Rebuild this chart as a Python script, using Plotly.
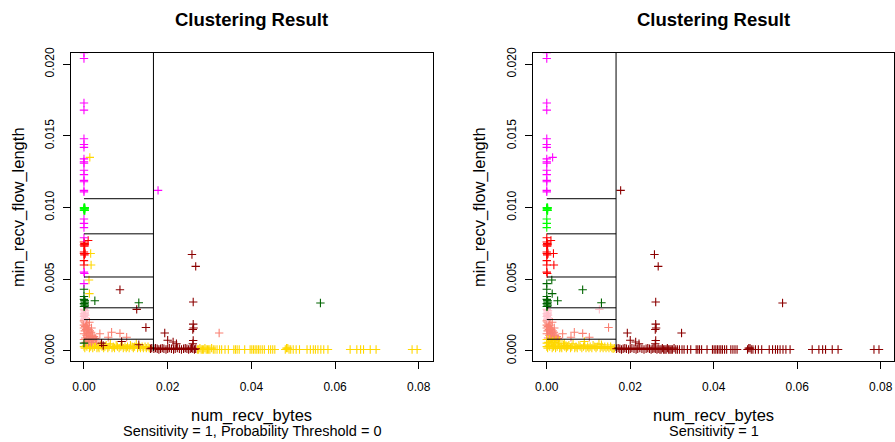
import plotly.graph_objects as go

# ---- cluster members (left panel: sensitivity = 1, probability threshold = 0) ----
magenta_x = [0, 0, 0, 0, 0, 0, 0, 0, 0, 0, 0, 0, 0, 0, 0, 0, 0.0177, 0, 0, 0, 0, 0, 0.0001, 0]
magenta_y = [0.0208, 0.0204, 0.0173, 0.0168, 0.0148, 0.0144, 0.0142, 0.0134, 0.0132, 0.0131,
             0.0126, 0.0123, 0.0119, 0.0118, 0.0112, 0.0111, 0.0112, 0.0092, 0.0089, 0.0086,
             0.0079, 0.0055, 0.0054, 0.0047]

green_x = [0, 0.0001, 0.0002, 0, 0.0001, 0.0002, 0, 0.0001, 0.0002, 0.0001]
green_y = [0.0098, 0.0098, 0.0098, 0.0099, 0.0099, 0.0099, 0.0100, 0.0100, 0.0100, 0.00995]

red_x = [0, 0.0001, 0, 0.0002, 0.0001, 0.0010, 0, 0, 0.0003, 0.0001, 0, 0]
red_y = [0.0076, 0.0075, 0.0074, 0.0074, 0.0073, 0.0077, 0.0069, 0.0068, 0.0068, 0.0067, 0.0063, 0.0060]

darkgreen_x = [0, 0, 0, 0.0001, 0.0002, 0, 0.0001, 0.0002, 0, 0.0001, 0.0002, 0.0026, 0.0131, 0.0565, 0]
darkgreen_y = [0.0043, 0.0038, 0.0036, 0.0035, 0.0034, 0.0033, 0.0033, 0.0032, 0.0031, 0.0031,
               0.0035, 0.0035, 0.00336, 0.00335, 0.00055]

pink_x = [0, 0.0001, 0.0002, 0.0003, 0, 0.0001, 0.0003, 0.0002, 0, 0.0002, 0.0003, 0.0001]
pink_y = [0.0029, 0.0028, 0.0027, 0.0028, 0.0026, 0.0025, 0.0025, 0.0026, 0.0024, 0.0023, 0.0023, 0.0022]

salmon_x = [0, 0.0002, 0.0004, 0, 0.0006, 0.0003, 0.0008, 0, 0.0011, 0.0005, 0.0014, 0.0002,
            0.0009, 0.0017, 0, 0.0012, 0.0020, 0.0006, 0.0015, 0.0024, 0.0003, 0.0010, 0.0019,
            0.0027, 0, 0.0007, 0.0014, 0.0022, 0.0030, 0.0004, 0.0011, 0.0018,
            0.0013, 0.0018, 0.0038, 0.0058, 0.0066, 0.0086, 0.0102, 0.0323]
salmon_y = [0.0021, 0.0020, 0.0019, 0.0018, 0.0018, 0.0017, 0.0016, 0.0016, 0.0015, 0.0015,
            0.0014, 0.0014, 0.0013, 0.0013, 0.0012, 0.0012, 0.0011, 0.0011, 0.0010, 0.0010,
            0.0009, 0.0009, 0.0009, 0.00088, 0.0008, 0.0008, 0.0007, 0.00075, 0.0007, 0.0006,
            0.0006, 0.0006,
            0.0020, 0.0016, 0.0012, 0.00096, 0.0013, 0.00123, 0.00096, 0.00125]

gold_x = [0.0014, 0.0016, 0.0017, 0.0012, 0.0013,
          0, 0.0002, 0.0005, 0.0007, 0.0010, 0.0013, 0.0016, 0.0019, 0.0021, 0.0025, 0.0028,
          0.0031, 0.0034, 0.0036, 0.0040, 0.0043, 0.0047, 0.0050, 0.0053, 0.0057, 0.0060,
          0.0063, 0.0067, 0.0070, 0.0073, 0.0077, 0.0080, 0.0084, 0.0088, 0.0091, 0.0094,
          0.0098, 0.0101, 0.0104, 0.0108, 0.0111, 0.0115, 0.0118, 0.0121, 0.0125, 0.0128,
          0.0132, 0.0135, 0.0139, 0.0142, 0.0146, 0.0149, 0.0153, 0.0156,
          0.0271, 0.0274, 0.0277, 0.0280, 0.0283, 0.0286, 0.0289, 0.0292, 0.0295, 0.0298,
          0.0301, 0.0305, 0.0309, 0.0313, 0.0318, 0.0324, 0.0329, 0.0337, 0.0345, 0.0358,
          0.0362, 0.0366, 0.0371, 0.0384, 0.0397, 0.0401, 0.0405, 0.0409, 0.0413, 0.0417,
          0.0421, 0.0426, 0.0431, 0.0441, 0.0446, 0.0451, 0.0456, 0.0481, 0.0484, 0.0487,
          0.0490, 0.0494, 0.0500, 0.0507, 0.0515, 0.0533, 0.0541, 0.0548, 0.0553, 0.0559,
          0.0566, 0.0573, 0.0583, 0.0636, 0.0652, 0.0661, 0.0668, 0.0684, 0.0698, 0.0784,
          0.0796]
gold_y = [0.0135, 0.0068, 0.0060, 0.00495, 0.0040,
          0.0003, 0.0002, 0.0004, 0.0003, 0.0006, 0.0002, 0.0003, 0.0004, 0.0002, 0.0003, 0.0005,
          0.0002, 0.0003, 0.0002, 0.0004, 0.0003, 0.0002, 0.0003, 0.0004, 0.0002, 0.0003,
          0.0005, 0.0002, 0.0003, 0.0002, 0.0004, 0.0003, 0.0002, 0.0003, 0.0004, 0.0002,
          0.0003, 0.0002, 0.0003, 0.0002, 0.0004, 0.0003, 0.0002, 0.0003, 0.0005, 0.0002,
          0.0003, 0.0002, 0.0003, 0.0002, 0.0003, 0.0002, 0.0003, 0.0002,
          0.0001, 0.0001, 0.0002, 0.0001, 0.0001, 0.0001, 0.0002, 0.0001, 0.0001, 0.0001,
          0.0001, 0.0002, 0.0001, 0.0001, 0.0001, 0.0001, 0.0001, 0.0001, 0.0001, 0.0001,
          0.0001, 0.0001, 0.0001, 0.0001, 0.0001, 0.0001, 0.0001, 0.0001, 0.0001, 0.0001,
          0.0001, 0.0001, 0.0001, 0.0001, 0.0001, 0.0001, 0.0001, 0.0001, 0.0002, 0.0002,
          0.0001, 0.0001, 0.0001, 0.0001, 0.0001, 0.0001, 0.0001, 0.0001, 0.0001, 0.0001,
          0.0001, 0.0001, 0.0001, 0.0001, 0.0001, 0.0001, 0.0001, 0.0001, 0.0001, 0.0001,
          0.0001]

darkred_x = [0.0086, 0.0126, 0.0148, 0.0193, 0.0200, 0.0213, 0.0221, 0.0258, 0.0267, 0.0261,
             0.0261, 0.0262, 0.0260, 0.0261, 0.0260, 0.0042, 0.0046, 0.0090, 0.0131,
             0.0159, 0.0162, 0.0167, 0.0171, 0.0175, 0.0179, 0.0183, 0.0187, 0.0191, 0.0196,
             0.0200, 0.0204, 0.0209, 0.0214, 0.0218, 0.0223, 0.0228, 0.0233, 0.0238, 0.0242,
             0.0246, 0.0250, 0.0254, 0.0257, 0.0260, 0.0264, 0.0267]
darkred_y = [0.00427, 0.0029, 0.00164, 0.00125, 0.00075, 0.00062, 0.0005, 0.00673, 0.0059, 0.00342,
             0.00187, 0.0016, 0.0015, 0.00073, 0.0005, 0.00055, 0.00038, 0.00066, 0.00043,
             0.00015, 0.0002, 0.00015, 0.0002, 0.00015, 0.0001, 0.00015, 0.0002, 0.00015, 0.0001,
             0.00015, 0.0002, 0.00015, 0.0001, 0.00015, 0.0002, 0.00015, 0.0001, 0.00015, 0.0002,
             0.00015, 0.0001, 0.00015, 0.0002, 0.00015, 0.0001, 0.00015]

# ---- partition boundaries (sensitivity = 1 rule) ----
split_x = 0.0166
split_y = [0.01062, 0.00817, 0.00516, 0.00301, 0.00219, 0.00082]
band_labels = ["magenta", "green", "red", "darkgreen", "pink", "salmon"]

x_ticks = [0.00, 0.02, 0.04, 0.06, 0.08]
y_ticks = [0.000, 0.005, 0.010, 0.015, 0.020]

colors = {
    "magenta": "#FF00FF", "green": "#00FF00", "red": "#FF0000", "darkgreen": "#006400",
    "pink": "#FFC0CB", "salmon": "#FA8072", "gold": "#FFD700", "darkred": "#8B0000",
}

clusters = {
    "gold": (gold_x, gold_y),
    "salmon": (salmon_x, salmon_y),
    "pink": (pink_x, pink_y),
    "darkgreen": (darkgreen_x, darkgreen_y),
    "red": (red_x, red_y),
    "green": (green_x, green_y),
    "magenta": (magenta_x, magenta_y),
    "darkred": (darkred_x, darkred_y),
}


def region_label(x, y):
    if x > split_x:
        return "darkred"
    for s, lab in zip(split_y, band_labels):
        if y > s:
            return lab
    return "gold"


FONT = "Liberation Sans, Arial, sans-serif"
MARK_SIZE = 6
MARK_W = 1.1

fig = go.Figure()


def add_points(xs, ys, color, xa, ya):
    fig.add_trace(go.Scatter(
        x=xs, y=ys, mode="markers", xaxis=xa, yaxis=ya, showlegend=False, hoverinfo="skip",
        marker=dict(symbol="cross-thin", size=MARK_SIZE, color=color,
                    line=dict(width=MARK_W, color=color)),
    ))


# left panel: clusters as assigned
for name, (xs, ys) in clusters.items():
    add_points(xs, ys, colors[name], "x", "y")

# right panel: the same points, coloured by partition region
all_x, all_y = [], []
for xs, ys in clusters.values():
    all_x += xs
    all_y += ys
order = ["salmon", "pink", "gold", "darkgreen", "red", "green", "magenta", "darkred"]
for name in order:
    px = [x for x, y in zip(all_x, all_y) if region_label(x, y) == name]
    py = [y for x, y in zip(all_x, all_y) if region_label(x, y) == name]
    add_points(px, py, colors[name], "x2", "y2")

# partition lines in both panels
Y_RANGE = [-0.00073, 0.02081]
shapes = []
for xr, yr in (("x", "y"), ("x2", "y2")):
    for s in split_y:
        shapes.append(dict(type="line", xref=xr, yref=yr, x0=0, x1=split_x, y0=s, y1=s,
                           line=dict(color="black", width=1)))
    shapes.append(dict(type="line", xref=xr, yref=yr, x0=split_x, x1=split_x, y0=0, y1=Y_RANGE[1],
                       line=dict(color="black", width=1)))

left_dom = [71 / 895, 433 / 895]
right_dom = [533 / 895, 894 / 895]
y_dom = [79 / 442, 393.5 / 442]

axis_common = dict(showline=True, linecolor="black", linewidth=1, mirror=True,
                   ticks="outside", ticklen=7, tickcolor="black", tickwidth=1,
                   showgrid=False, zeroline=False,
                   tickfont=dict(family=FONT, size=12, color="black"))

xa = dict(axis_common, tickvals=x_ticks, tickformat=".2f", ticklabelstandoff=7)
ya = dict(axis_common, tickvals=y_ticks, tickformat=".3f", tickangle=-90, range=Y_RANGE,
          ticklabelstandoff=4)

annotations = []
subtitles = ["Sensitivity = 1, Probability Threshold = 0", "Sensitivity = 1"]
for dom, sub, ylab_x in ((left_dom, subtitles[0], 18), (right_dom, subtitles[1], 479)):
    cx = (dom[0] + dom[1]) / 2
    annotations.append(dict(text="<b>Clustering Result</b>", x=cx, y=1 - 15 / 442, xref="paper",
                            yref="paper", showarrow=False, xanchor="center", yanchor="middle",
                            font=dict(family=FONT, size=18.5, color="black")))
    annotations.append(dict(text="num_recv_bytes", x=cx, y=1 - 418.5 / 442, xref="paper",
                            yref="paper", showarrow=False, xanchor="center", yanchor="middle",
                            font=dict(family=FONT, size=16.5, color="black")))
    annotations.append(dict(text=sub, x=cx, y=1 - 434 / 442, xref="paper",
                            yref="paper", showarrow=False, xanchor="center", yanchor="middle",
                            font=dict(family=FONT, size=14.5, color="black")))
    annotations.append(dict(text="min_recv_flow_length", x=ylab_x / 895,
                            y=(y_dom[0] + y_dom[1]) / 2, xref="paper", yref="paper",
                            showarrow=False, textangle=-90, xanchor="center", yanchor="middle",
                            font=dict(family=FONT, size=16.5, color="black")))

fig.update_layout(
    width=895, height=442, autosize=False,
    margin=dict(l=0, r=0, t=0, b=0),
    paper_bgcolor="white", plot_bgcolor="white",
    xaxis=dict(xa, domain=left_dom, range=[-0.0031, 0.0834], anchor="y"),
    yaxis=dict(ya, domain=y_dom, anchor="x"),
    xaxis2=dict(xa, domain=right_dom, range=[-0.0033, 0.0832], anchor="y2"),
    yaxis2=dict(ya, domain=y_dom, anchor="x2"),
    shapes=shapes, annotations=annotations,
)

fig.write_html("out.html")
